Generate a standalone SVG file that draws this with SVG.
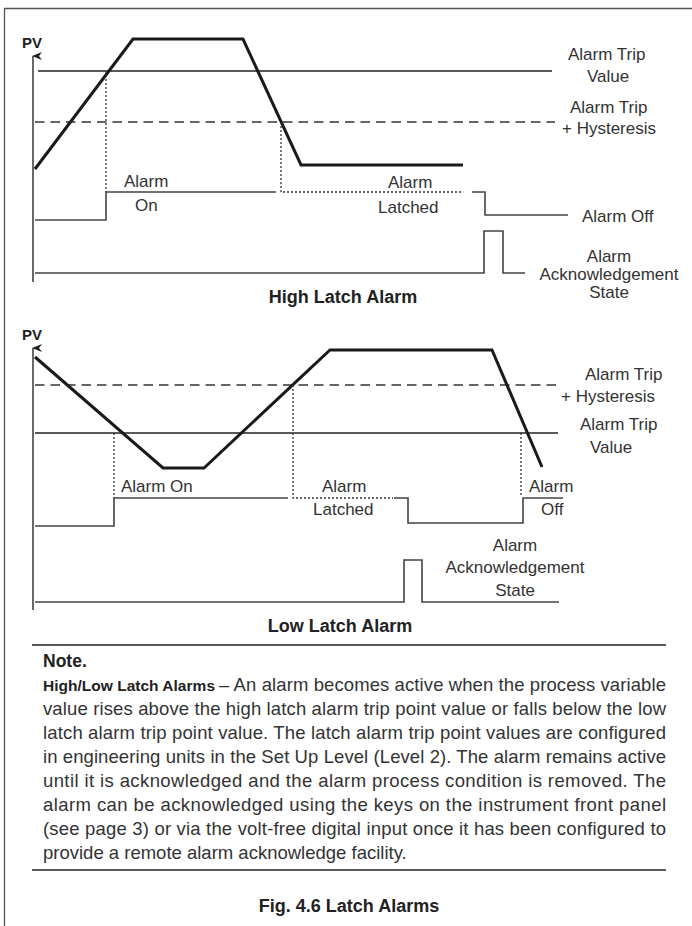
<svg xmlns="http://www.w3.org/2000/svg" width="692" height="926" viewBox="0 0 692 926">
<style>
.t{font-family:"Liberation Sans",Arial,sans-serif;font-size:17px;fill:#333}
.b{font-family:"Liberation Sans",Arial,sans-serif;font-weight:bold;fill:#222}
.n{font-family:"Liberation Sans",Arial,sans-serif;font-size:18.5px;fill:#333}
.thin{fill:none;stroke:#222;stroke-width:1.3}
.out{fill:none;stroke:#444;stroke-width:1.6}
.dot{fill:none;stroke:#333;stroke-width:1.3;stroke-dasharray:2 2}
.dash{fill:none;stroke:#333;stroke-width:1.3;stroke-dasharray:9.5 6}
.pv{fill:none;stroke:#1a1a1a;stroke-width:3;stroke-linejoin:miter}
.ax{fill:none;stroke:#444;stroke-width:1.6}
</style>
<defs>
<marker id="arr" markerWidth="8" markerHeight="10" refX="4" refY="1" orient="auto-start-reverse" markerUnits="userSpaceOnUse" viewBox="0 0 8 10">
<path d="M4 0 L8 10 L4 7 L0 10 Z" fill="#222"/>
</marker>
</defs>
<rect width="692" height="926" fill="#fff"/>
<path d="M4.5 926 V8.5 H692" fill="none" stroke="#555" stroke-width="1.3"/>

<g id="high-latch">
<text class="b" x="22" y="48" font-size="15">PV</text>
<path class="ax" d="M33 282 V56" marker-end="url(#arr)"/>
<path class="thin" d="M38 71 H552"/>
<path class="dash" d="M35 122 H555"/>
<path class="pv" d="M35 169 L133 39 L243 39 L301 165 L463 165"/>
<path class="dot" d="M106 71 V192 M281 122 V192 H462"/>
<path class="out" d="M35 220 H106 V192 H276"/>
<path class="out" d="M472 192 H485 V215 H568"/>
<path class="out" d="M35 273 H484 V231 H503 V273 H525"/>
<text class="t" x="568" y="60">Alarm Trip</text>
<text class="t" x="587" y="82">Value</text>
<text class="t" x="570" y="113">Alarm Trip</text>
<text class="t" x="562" y="134">+ Hysteresis</text>
<text class="t" x="124" y="187">Alarm</text>
<text class="t" x="135" y="211">On</text>
<text class="t" x="388" y="188">Alarm</text>
<text class="t" x="378" y="213">Latched</text>
<text class="t" x="582" y="222">Alarm Off</text>
<text class="t" x="609" y="262" text-anchor="middle">Alarm</text>
<text class="t" x="609" y="280" text-anchor="middle">Acknowledgement</text>
<text class="t" x="609" y="298" text-anchor="middle">State</text>
<text class="b" x="343" y="303" font-size="18" text-anchor="middle">High Latch Alarm</text>
</g>

<g id="low-latch">
<text class="b" x="22" y="340" font-size="15">PV</text>
<path class="ax" d="M33 610 V348" marker-end="url(#arr)"/>
<path class="dash" d="M35 385 H558"/>
<path class="thin" d="M35 433 H558"/>
<path class="pv" d="M35 357 L163 468 L204 468 L330 350 L492 350 L542 467"/>
<path class="dot" d="M114 433 V498 M293 385 V498 H393 M521 433 V496"/>
<path class="out" d="M35 526 H114 V498 H288"/>
<path class="out" d="M394 498 H408 V523 H523 V498 H563"/>
<path class="out" d="M35 602 H404 V560 H422 V602 H559"/>
<text class="t" x="585" y="380">Alarm Trip</text>
<text class="t" x="561" y="402">+ Hysteresis</text>
<text class="t" x="580" y="430">Alarm Trip</text>
<text class="t" x="590" y="453">Value</text>
<text class="t" x="121" y="492">Alarm On</text>
<text class="t" x="322" y="492">Alarm</text>
<text class="t" x="313" y="515">Latched</text>
<text class="t" x="529" y="492">Alarm</text>
<text class="t" x="541" y="515">Off</text>
<text class="t" x="515" y="551" text-anchor="middle">Alarm</text>
<text class="t" x="515" y="573" text-anchor="middle">Acknowledgement</text>
<text class="t" x="515" y="596" text-anchor="middle">State</text>
<text class="b" x="340" y="632" font-size="18" text-anchor="middle">Low Latch Alarm</text>
</g>

<g id="note">
<path class="thin" d="M32 645 H666"/>
<text class="b" x="43" y="667" font-size="17.5">Note.</text>
<text class="b" x="43" y="691" font-size="15.5" textLength="172">High/Low Latch Alarms</text>
<text class="n" x="219" y="691" textLength="447"> – An alarm becomes active when the process variable</text>
<text class="n" x="43" y="715" textLength="623">value rises above the high latch alarm trip point value or falls below the low</text>
<text class="n" x="43" y="739" textLength="623">latch alarm trip point value. The latch alarm trip point values are configured</text>
<text class="n" x="43" y="763" textLength="623">in engineering units in the Set Up Level (Level 2). The alarm remains active</text>
<text class="n" x="43" y="787" textLength="623">until it is acknowledged and the alarm process condition is removed. The</text>
<text class="n" x="43" y="811" textLength="623">alarm can be acknowledged using the keys on the instrument front panel</text>
<text class="n" x="43" y="835" textLength="623">(see page 3) or via the volt-free digital input once it has been configured to</text>
<text class="n" x="43" y="859">provide a remote alarm acknowledge facility.</text>
<path class="thin" d="M32 870 H666"/>
<text class="b" x="349" y="912" font-size="18" text-anchor="middle">Fig. 4.6 Latch Alarms</text>
</g>
</svg>
